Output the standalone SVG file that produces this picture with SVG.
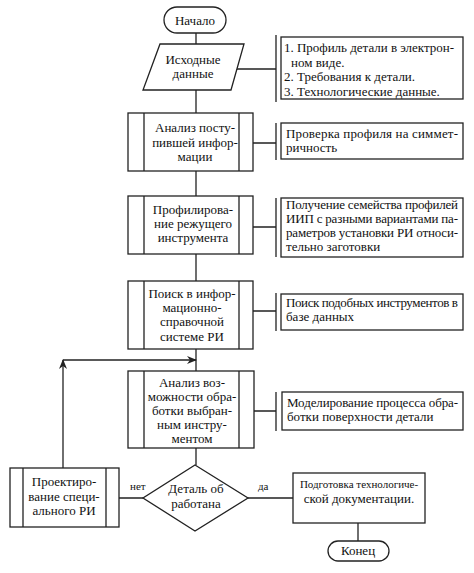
<svg xmlns="http://www.w3.org/2000/svg" width="474" height="573" viewBox="0 0 474 573">
<style>
.s{fill:#fff;stroke:#222;stroke-width:1.3}
.l{fill:none;stroke:#222;stroke-width:1.3}
text{font-family:'Liberation Serif','DejaVu Serif',serif;font-size:13px;fill:#111}
.c{text-anchor:middle}
.sm{font-size:11px}
</style>
<defs>
<marker id="ah" markerWidth="10" markerHeight="8" refX="9" refY="4" orient="auto" markerUnits="userSpaceOnUse">
<path d="M0,0 L10,4 L0,8 L3,4 Z" fill="#222"/>
</marker>
</defs>
<rect width="474" height="573" fill="#fff"/>
<g font-family="Liberation Serif, DejaVu Serif, serif">
<g id="connectors">
<path class="l" d="M196,33 V44 M196,90 V113 M196,171 V196 M196,254 V281 M196,349 V371 M196,448 V465"/>
<path class="l" d="M234,69 H276 M276,35 V102"/>
<path class="l" d="M253,143 H276 M276,123 V160"/>
<path class="l" d="M253,227 H276 M276,198 V257"/>
<path class="l" d="M253,311 H276 M276,293 V331"/>
<path class="l" d="M254,411 H276 M276,392 V431"/>
<path class="l" d="M63,468 V360" marker-end="url(#ah)"/>
<path class="l" d="M63,360 H196" marker-end="url(#ah)"/>
<path class="l" d="M119,498 H143 M248,498 H293"/>
<path class="l" d="M358,523 V541"/>
<text x="130" y="490" class="sm">нет</text>
<text x="258" y="490" class="sm">да</text>
</g>
<g id="start">
<rect class="s" x="164" y="7" width="62" height="26" rx="13"/>
<text x="195" y="25" class="c">Начало</text>
</g>
<g id="input">
<polygon class="s" points="160,44 244,44 231,90 143,90"/>
<text x="193" y="64" class="c">Исходные</text>
<text x="193" y="78" class="c">данные</text>
</g>
<g id="note1">
<rect class="s" x="281" y="37" width="182" height="62"/>
<text x="284" y="52" textLength="170" lengthAdjust="spacing">1. Профиль детали в электрон-</text>
<text x="291" y="67">ном виде.</text>
<text x="284" y="81">2. Требования к детали.</text>
<text x="284" y="95.5">3. Технологические данные.</text>
</g>
<g id="analysis">
<rect class="s" x="128" y="113" width="125" height="58"/>
<path class="l" d="M144,113 V171 M239,113 V171"/>
<text x="195" y="132" class="c">Анализ посту-</text>
<text x="195" y="147" class="c">пившей инфор-</text>
<text x="195" y="161" class="c">мации</text>
</g>
<g id="note2">
<rect class="s" x="281" y="123" width="182" height="36"/>
<text x="286" y="138" textLength="172" lengthAdjust="spacing">Проверка профиля на симмет-</text>
<text x="286" y="152">ричность</text>
</g>
<g id="profiling">
<rect class="s" x="128" y="196" width="125" height="58"/>
<path class="l" d="M144,196 V254 M239,196 V254"/>
<text x="193" y="214" class="c">Профилирова-</text>
<text x="193" y="228" class="c">ние режущего</text>
<text x="193" y="242" class="c">инструмента</text>
</g>
<g id="note3">
<rect class="s" x="281" y="198" width="182" height="59"/>
<text x="286" y="209" textLength="172" lengthAdjust="spacing">Получение семейства профилей</text>
<text x="286" y="223" textLength="172" lengthAdjust="spacing">ИИП с разными вариантами па-</text>
<text x="286" y="237" textLength="172" lengthAdjust="spacing">раметров установки РИ относи-</text>
<text x="286" y="251">тельно заготовки</text>
</g>
<g id="search">
<rect class="s" x="128" y="281" width="125" height="68"/>
<path class="l" d="M144,281 V349 M239,281 V349"/>
<text x="192" y="298" class="c">Поиск в инфор-</text>
<text x="192" y="312" class="c">мационно-</text>
<text x="192" y="326" class="c">справочной</text>
<text x="192" y="341" class="c">системе РИ</text>
</g>
<g id="note4">
<rect class="s" x="281" y="294" width="182" height="36"/>
<text x="286" y="307" textLength="172" lengthAdjust="spacing">Поиск подобных инструментов в</text>
<text x="286" y="321">базе данных</text>
</g>
<g id="possibility">
<rect class="s" x="128" y="371" width="126" height="77"/>
<path class="l" d="M144,371 V448 M239,371 V448"/>
<text x="192" y="387" class="c">Анализ воз-</text>
<text x="192" y="401" class="c">можности обра-</text>
<text x="192" y="415" class="c">ботки выбран-</text>
<text x="192" y="429" class="c">ным инстру-</text>
<text x="192" y="443" class="c">ментом</text>
</g>
<g id="note5">
<rect class="s" x="282" y="392" width="181" height="38"/>
<text x="287" y="407" textLength="171" lengthAdjust="spacing">Моделирование процесса обра-</text>
<text x="287" y="421">ботки поверхности детали</text>
</g>
<g id="decision">
<polygon class="s" points="195,465 248,498 195,531 143,498"/>
<text x="196" y="493" class="c">Деталь об</text>
<text x="196" y="508" class="c">работана</text>
</g>
<g id="design">
<rect class="s" x="10" y="468" width="109" height="59"/>
<path class="l" d="M23,468 V527 M106,468 V527"/>
<text x="64" y="486" class="c">Проектиро-</text>
<text x="64" y="501" class="c">вание специ-</text>
<text x="64" y="515" class="c">ального РИ</text>
</g>
<g id="docs">
<rect class="s" x="293" y="473" width="132" height="50"/>
<text x="359" y="488" class="c sm">Подготовка технологиче-</text>
<text x="359" y="503" class="c">ской документации.</text>
</g>
<g id="end">
<rect class="s" x="328" y="541" width="61" height="20" rx="10"/>
<text x="358" y="555" class="c">Конец</text>
</g>
</g>
</svg>
